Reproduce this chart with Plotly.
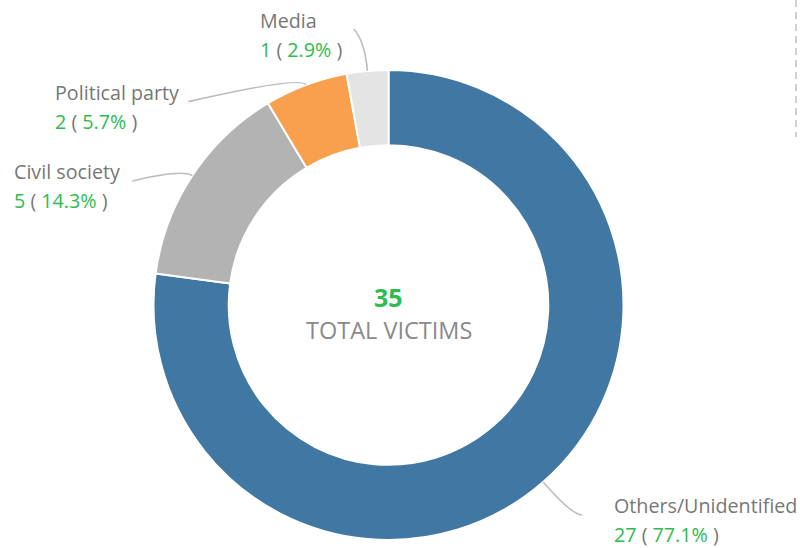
import math
import plotly.graph_objects as go

categories = ["Others/Unidentified", "Civil society", "Political party", "Media"]
values = [27, 5, 2, 1]
colors = ["#4178a3", "#b3b3b3", "#f8a04d", "#e4e4e4"]
center_value_label = "TOTAL VICTIMS"

W, H = 800, 548
CX, CY, R = 388.5, 305.0, 235.0
HOLE = 0.68

GREEN = "#2fbb4f"
GRAY = "#777777"
FONT = "Open Sans, Noto Sans, sans-serif"
FS = 19.7

# label line layout: radial extension of control point, offset of the line end, text offset
ext = [43.7, 12, 10, 30]
end_off = [(10, 0), (-50, 12), (-114, 26), (-11, -12)]
text_dx = [30.5, -120, -135, -96]

total = sum(values)

def px(x):
    return x / W

def py(y):
    return 1 - y / H

fig = go.Figure()
fig.add_trace(go.Pie(
    labels=categories, values=values, sort=False, direction="clockwise", rotation=0,
    hole=HOLE, marker=dict(colors=colors, line=dict(color="white", width=2)),
    textinfo="none", hoverinfo="label+value+percent", showlegend=False,
    domain=dict(x=[px(CX - R), px(CX + R)], y=[py(CY + R), py(CY - R)]),
))

shapes = []
annotations = []
cum = 0
for i, (cat, v) in enumerate(zip(categories, values)):
    frac = v / total
    mid = (cum + frac / 2) * 2 * math.pi
    cum += frac
    s, c = math.sin(mid), math.cos(mid)
    x0, y0 = CX + R * s, CY - R * c
    x1, y1 = CX + (R + ext[i]) * s, CY - (R + ext[i]) * c
    x2, y2 = x1 + end_off[i][0], y1 + end_off[i][1]
    path = f"M {px(x0)},{py(y0)} Q {px(x1)},{py(y1)} {px(x2)},{py(y2)}"
    shapes.append(dict(type="path", path=path, xref="paper", yref="paper",
                       line=dict(color="#bcbcbc", width=1.6)))
    pct = f"{frac * 100:.1f}%"
    line1 = f"<span style='color:{GRAY}'>{cat}</span>"
    line2 = (f"<span style='color:{GREEN}'>{v}</span>"
             f"<span style='color:{GRAY}'> ( </span>"
             f"<span style='color:{GREEN}'>{pct}</span>"
             f"<span style='color:{GRAY}'> )</span>")
    tx = x2 + text_dx[i]
    for txt, dy in ((line1, -9), (line2, 20)):
        annotations.append(dict(
            x=px(tx), y=py(y2 + dy), xref="paper", yref="paper", text=txt, showarrow=False,
            xanchor="left", yanchor="middle", align="left",
            font=dict(family=FONT, size=FS, color=GRAY),
        ))

annotations.append(dict(x=px(CX), y=py(297), xref="paper", yref="paper",
                        text=f"<b>{total}</b>", showarrow=False,
                        font=dict(family=FONT, size=25, color=GREEN)))
annotations.append(dict(x=px(CX), y=py(330), xref="paper", yref="paper",
                        text=center_value_label, showarrow=False,
                        font=dict(family=FONT, size=23.5, color="#8a8a8a")))

shapes.append(dict(type="line", xref="paper", yref="paper",
                   x0=px(796), x1=px(796), y0=py(0), y1=py(137),
                   line=dict(color="#cfcfcf", width=2, dash="7px,5px")))

fig.update_layout(
    width=W, height=H, margin=dict(l=0, r=0, t=0, b=0),
    paper_bgcolor="white", plot_bgcolor="white",
    shapes=shapes, annotations=annotations,
    font=dict(family=FONT),
)

fig.write_html("out.html", config={"displayModeBar": False},
               post_script="document.body.style.margin='0px';document.body.style.overflow='hidden';")
